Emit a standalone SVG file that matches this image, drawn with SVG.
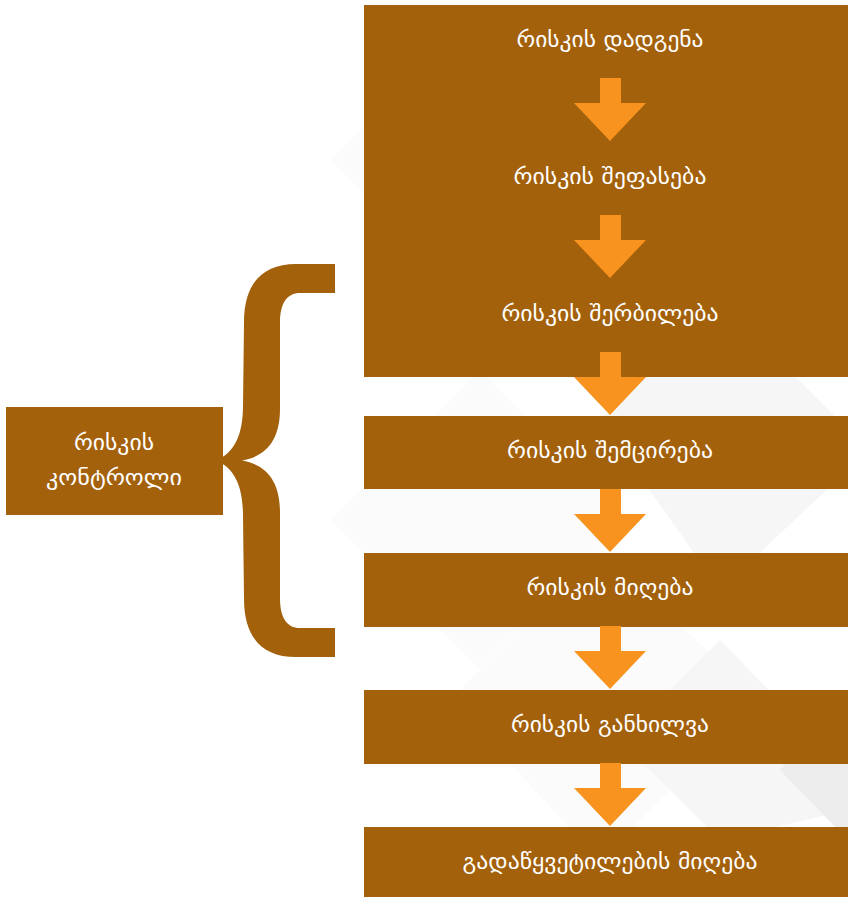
<svg xmlns="http://www.w3.org/2000/svg" width="848" height="897" viewBox="0 0 848 897">
  <defs>
    <style>
      .box { fill: #A4610B; }
      .arrow { fill: #F7931E; }
      .lbl { fill: #FFFFFF; font-family: "DejaVu Sans", "Noto Sans", sans-serif; font-size: 22px; text-anchor: middle; }
      .bg1 { fill: #FBFBFB; }
      .bg2 { fill: #F6F6F6; }
      .bg3 { fill: #EDEDED; }
    </style>
    <polygon id="arr" points="600,0 621,0 621,25 646,25 610,63 574,25 600,25"/>
  </defs>
  <rect width="848" height="897" fill="#FFFFFF"/>
  <g id="background">
    <polygon class="bg1" points="330,160 480,10 630,160 480,310"/>
    <polygon class="bg1" points="330,520 480,370 630,520 480,670"/>
    <polygon class="bg1" points="450,700 600,550 760,700 600,860"/>
    <polygon class="bg2" points="600,420 720,300 848,430 848,470 720,590"/>
    <polygon class="bg2" points="620,740 720,640 848,770 848,810 720,840"/>
    <polygon class="bg3" points="780,770 848,700 848,840"/>
  </g>
  <g id="brace">
    <path class="box" d="M335,264 L296,264 C262,264 244,284 244,322 L243,405 C243,436 234,453 216,460.5 C234,468 243,485 243,516 L244,599 C244,637 262,657 296,657 L335,657 L335,628 L300,628 C287,628 280,618 280,598 L280,512 C280,483 268,465 242,460.5 C268,456 280,438 280,409 L280,323 C280,303 287,293 300,293 L335,293 Z"/>
  </g>
  <g id="node-control">
    <rect class="box" x="6" y="407" width="217" height="108"/>
    <text class="lbl" x="114" y="450" textLength="80" lengthAdjust="spacingAndGlyphs">რისკის</text>
    <text class="lbl" x="114" y="485" textLength="136" lengthAdjust="spacingAndGlyphs">კონტროლი</text>
  </g>
  <g id="node-main">
    <rect class="box" x="364" y="5" width="484" height="372"/>
    <text class="lbl" x="610" y="47" textLength="187" lengthAdjust="spacingAndGlyphs">რისკის დადგენა</text>
    <text class="lbl" x="610" y="184" textLength="193" lengthAdjust="spacingAndGlyphs">რისკის შეფასება</text>
    <text class="lbl" x="610" y="321" textLength="217" lengthAdjust="spacingAndGlyphs">რისკის შერბილება</text>
  </g>
  <g id="node-reduce">
    <rect class="box" x="364" y="416" width="484" height="73"/>
    <text class="lbl" x="610" y="458" textLength="206" lengthAdjust="spacingAndGlyphs">რისკის შემცირება</text>
  </g>
  <g id="node-accept">
    <rect class="box" x="364" y="553" width="484" height="74"/>
    <text class="lbl" x="610" y="595" textLength="167" lengthAdjust="spacingAndGlyphs">რისკის მიღება</text>
  </g>
  <g id="node-review">
    <rect class="box" x="364" y="690" width="484" height="74"/>
    <text class="lbl" x="610" y="732" textLength="198" lengthAdjust="spacingAndGlyphs">რისკის განხილვა</text>
  </g>
  <g id="node-decision">
    <rect class="box" x="364" y="827" width="484" height="70"/>
    <text class="lbl" x="610" y="869" textLength="295" lengthAdjust="spacingAndGlyphs">გადაწყვეტილების მიღება</text>
  </g>
  <g id="connectors">
    <use href="#arr" class="arrow" y="78"/>
    <use href="#arr" class="arrow" y="215"/>
    <use href="#arr" class="arrow" y="352"/>
    <use href="#arr" class="arrow" y="489"/>
    <use href="#arr" class="arrow" y="626"/>
    <use href="#arr" class="arrow" y="763"/>
  </g>
</svg>
